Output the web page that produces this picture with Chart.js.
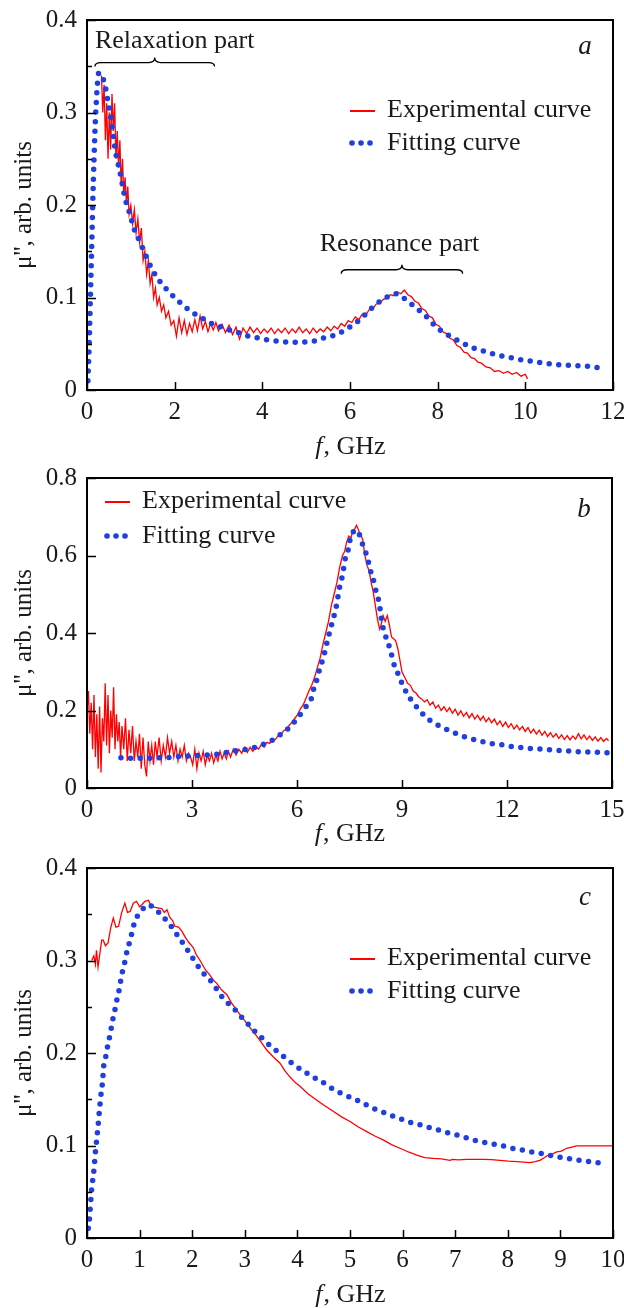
<!DOCTYPE html>
<html>
<head>
<meta charset="utf-8">
<script src="https://cdn.jsdelivr.net/npm/chart.js@4"></script>
<style>
  html, body { margin: 0; padding: 0; background: #fff; }
  body { width: 624px; height: 1308px; position: relative; overflow: hidden; }
  .panel { position: absolute; left: 0; width: 624px; }
</style>
</head>
<body>
<div class="panel" style="top:0;height:462px"><canvas id="chartA"></canvas></div>
<div class="panel" style="top:462px;height:390px"><canvas id="chartB"></canvas></div>
<div class="panel" style="top:852px;height:456px"><canvas id="chartC"></canvas></div>
<script>
// ---- data: [f (GHz), mu''] ----
const aExp = [
  [0.33,0.34],[0.36,0.30],[0.39,0.33],[0.42,0.27],[0.45,0.31],[0.48,0.25],[0.51,0.30],[0.54,0.26],
  [0.57,0.32],[0.60,0.28],[0.63,0.31],[0.66,0.25],[0.69,0.28],[0.72,0.24],[0.75,0.27],[0.78,0.22],
  [0.81,0.25],[0.84,0.21],[0.87,0.23],[0.90,0.20],[0.93,0.22],[0.96,0.19],[1.00,0.20],[1.04,0.18],
  [1.08,0.195],[1.12,0.17],[1.16,0.185],[1.20,0.16],[1.24,0.175],[1.28,0.14],[1.32,0.15],[1.36,0.125],
  [1.40,0.14],[1.44,0.115],[1.48,0.125],[1.52,0.10],[1.56,0.11],[1.60,0.092],[1.65,0.10],[1.70,0.085],
  [1.75,0.092],[1.80,0.078],[1.86,0.085],[1.92,0.07],[1.98,0.075],[2.04,0.058],[2.10,0.078],[2.16,0.062],
  [2.22,0.075],[2.28,0.06],[2.34,0.072],[2.40,0.063],[2.46,0.076],[2.52,0.064],[2.58,0.08],[2.64,0.066],
  [2.70,0.074],[2.76,0.063],[2.82,0.072],[2.88,0.065],[2.94,0.073],[3.00,0.064],[3.08,0.071],[3.16,0.062],
  [3.24,0.07],[3.32,0.06],[3.40,0.068],[3.48,0.055],[3.56,0.067],[3.64,0.061],[3.72,0.068],[3.80,0.062],
  [3.88,0.067],[3.96,0.061],[4.04,0.066],[4.12,0.062],[4.20,0.067],[4.28,0.061],[4.36,0.066],[4.44,0.062],
  [4.52,0.067],[4.60,0.061],[4.68,0.066],[4.76,0.062],[4.84,0.068],[4.92,0.062],[5.00,0.066],[5.08,0.061],
  [5.16,0.067],[5.24,0.062],[5.32,0.066],[5.40,0.063],[5.48,0.068],[5.56,0.064],[5.64,0.069],[5.72,0.066],
  [5.80,0.072],[5.88,0.069],[5.96,0.075],[6.04,0.073],[6.12,0.079],[6.20,0.076],[6.28,0.082],[6.36,0.081],
  [6.44,0.087],[6.52,0.088],[6.60,0.093],[6.68,0.094],[6.76,0.098],[6.84,0.099],[6.92,0.103],[7.00,0.102],
  [7.08,0.106],[7.16,0.104],[7.24,0.108],[7.32,0.103],[7.40,0.101],[7.48,0.096],[7.56,0.094],[7.64,0.088],
  [7.72,0.086],[7.80,0.08],[7.88,0.078],[7.96,0.071],[8.04,0.069],[8.12,0.063],[8.20,0.061],[8.28,0.056],
  [8.36,0.054],[8.44,0.048],[8.52,0.046],[8.60,0.041],[8.68,0.04],[8.76,0.035],[8.84,0.034],[8.92,0.03],
  [9.00,0.029],[9.10,0.025],[9.20,0.024],[9.30,0.02],[9.40,0.021],[9.50,0.018],[9.60,0.02],[9.70,0.017],
  [9.80,0.019],[9.90,0.015],[10.0,0.017],[10.05,0.012]
];
const aFit = [
  [0.02,0.01],[0.05,0.05],[0.08,0.105],[0.11,0.16],[0.13,0.20],[0.16,0.25],[0.19,0.29],[0.23,0.325],
  [0.27,0.343],[0.32,0.34],[0.40,0.332],[0.48,0.311],[0.56,0.289],[0.65,0.258],[0.75,0.236],[0.88,0.205],
  [0.96,0.193],[1.09,0.172],[1.20,0.161],[1.29,0.151],[1.39,0.140],[1.49,0.130],[1.62,0.12],[1.89,0.105],
  [2.04,0.098],[2.21,0.091],[2.39,0.084],[2.59,0.079],[2.78,0.073],[2.99,0.0695],[3.16,0.066],[3.35,0.0638],
  [3.56,0.060],[3.73,0.0577],[3.94,0.0559],[4.13,0.054],[4.33,0.053],[4.53,0.052],[4.76,0.0516],[4.99,0.052],
  [5.19,0.053],[5.38,0.056],[5.57,0.058],[5.74,0.061],[5.95,0.0667],[6.14,0.0728],[6.29,0.0786],[6.42,0.0854],
  [6.56,0.091],[6.75,0.098],[6.98,0.103],[7.05,0.104],[7.18,0.101],[7.5,0.089],[7.69,0.082],[7.97,0.068],
  [8.14,0.062],[8.33,0.057],[8.48,0.053],[8.79,0.046],[8.99,0.043],[9.22,0.0396],[9.45,0.037],[9.66,0.035],
  [9.85,0.033],[10.07,0.0317],[10.28,0.030],[10.48,0.0288],[10.67,0.0278],[10.88,0.027],[11.1,0.0263],
  [11.33,0.026],[11.55,0.025],[11.75,0.0234]
];
const bExp = [
  [0.00,0.20],[0.04,0.25],[0.08,0.14],[0.12,0.22],[0.16,0.10],[0.20,0.24],[0.24,0.08],[0.28,0.19],
  [0.32,0.05],[0.36,0.21],[0.40,0.04],[0.44,0.18],[0.48,0.12],[0.52,0.27],[0.56,0.11],[0.60,0.24],
  [0.64,0.09],[0.68,0.20],[0.72,0.13],[0.76,0.26],[0.80,0.10],[0.84,0.19],[0.88,0.12],[0.92,0.17],
  [0.96,0.08],[1.00,0.16],[1.05,0.10],[1.10,0.18],[1.15,0.07],[1.20,0.15],[1.25,0.09],[1.30,0.16],
  [1.35,0.07],[1.40,0.12],[1.45,0.08],[1.50,0.14],[1.55,0.05],[1.60,0.13],[1.65,0.06],[1.70,0.03],
  [1.75,0.12],[1.80,0.07],[1.85,0.11],[1.90,0.06],[1.95,0.12],[2.00,0.08],[2.06,0.13],[2.12,0.07],
  [2.18,0.11],[2.24,0.08],[2.30,0.13],[2.36,0.09],[2.42,0.12],[2.48,0.08],[2.54,0.11],[2.60,0.07],
  [2.66,0.10],[2.72,0.08],[2.78,0.11],[2.84,0.07],[2.90,0.09],[2.96,0.08],[3.02,0.06],[3.08,0.10],
  [3.14,0.05],[3.20,0.09],[3.26,0.07],[3.32,0.095],[3.38,0.06],[3.44,0.085],[3.50,0.07],[3.56,0.09],
  [3.62,0.065],[3.68,0.085],[3.74,0.07],[3.80,0.095],[3.86,0.075],[3.92,0.09],[3.98,0.075],[4.04,0.095],
  [4.10,0.08],[4.18,0.10],[4.26,0.085],[4.34,0.10],[4.42,0.09],[4.50,0.105],[4.58,0.092],[4.66,0.105],
  [4.74,0.095],[4.82,0.108],[4.90,0.10],[4.98,0.112],[5.06,0.105],[5.14,0.118],[5.22,0.115],[5.30,0.125],
  [5.38,0.125],[5.46,0.135],[5.54,0.138],[5.62,0.148],[5.70,0.152],[5.78,0.162],[5.86,0.17],[5.94,0.18],
  [6.02,0.19],[6.10,0.205],[6.18,0.215],[6.26,0.232],[6.34,0.25],[6.42,0.265],[6.50,0.285],[6.58,0.31],
  [6.66,0.335],[6.74,0.37],[6.82,0.40],[6.90,0.43],[6.98,0.47],[7.06,0.50],[7.14,0.53],[7.22,0.57],
  [7.30,0.60],[7.36,0.61],[7.42,0.635],[7.48,0.65],[7.54,0.645],[7.60,0.665],[7.66,0.67],[7.70,0.678],
  [7.74,0.67],[7.78,0.66],[7.82,0.655],[7.88,0.64],[7.94,0.60],[8.00,0.575],[8.06,0.56],[8.12,0.53],
  [8.18,0.505],[8.24,0.47],[8.30,0.435],[8.36,0.41],[8.40,0.42],[8.46,0.445],[8.52,0.43],[8.58,0.445],
  [8.64,0.42],[8.70,0.39],[8.76,0.385],[8.82,0.38],[8.88,0.36],[8.94,0.33],[9.00,0.30],[9.08,0.285],
  [9.16,0.27],[9.24,0.265],[9.32,0.25],[9.40,0.245],[9.48,0.235],[9.56,0.23],[9.64,0.222],[9.72,0.228],
  [9.80,0.214],[9.88,0.222],[9.96,0.206],[10.04,0.214],[10.12,0.200],[10.20,0.21],[10.28,0.197],[10.36,0.207],
  [10.44,0.193],[10.52,0.203],[10.60,0.188],[10.68,0.199],[10.76,0.185],[10.84,0.195],[10.92,0.181],[11.00,0.192],
  [11.08,0.178],[11.16,0.188],[11.24,0.175],[11.32,0.185],[11.40,0.171],[11.48,0.181],[11.56,0.168],[11.64,0.178],
  [11.72,0.163],[11.80,0.173],[11.88,0.159],[11.96,0.17],[12.04,0.156],[12.12,0.166],[12.20,0.152],[12.28,0.162],
  [12.36,0.15],[12.44,0.159],[12.52,0.146],[12.60,0.156],[12.68,0.142],[12.76,0.152],[12.84,0.139],[12.92,0.149],
  [13.00,0.136],[13.08,0.146],[13.16,0.133],[13.24,0.143],[13.32,0.131],[13.40,0.14],[13.48,0.128],[13.56,0.137],
  [13.64,0.125],[13.72,0.135],[13.80,0.124],[13.88,0.134],[13.96,0.126],[14.04,0.14],[14.12,0.127],[14.20,0.137],
  [14.28,0.125],[14.36,0.134],[14.44,0.123],[14.52,0.132],[14.60,0.121],[14.68,0.13],[14.76,0.12],[14.84,0.128],
  [14.90,0.122]
];
const bFit = [
  [0.97,0.078],[1.28,0.077],[1.58,0.077],[1.84,0.077],[2.11,0.078],[2.42,0.079],[2.68,0.082],[2.97,0.083],
  [3.25,0.084],[3.56,0.086],[3.82,0.088],[4.09,0.094],[4.37,0.098],[4.68,0.102],[4.94,0.110],[5.23,0.12],
  [5.51,0.137],[5.79,0.157],[6.01,0.18],[6.22,0.206],[6.41,0.231],[6.48,0.257],[6.58,0.283],[6.65,0.309],
  [6.75,0.335],[6.82,0.362],[6.89,0.388],[6.96,0.412],[7.12,0.468],[7.22,0.52],[7.29,0.545],[7.39,0.597],
  [7.48,0.621],[7.53,0.649],[7.62,0.662],[7.69,0.666],[7.77,0.657],[7.86,0.632],[7.97,0.606],[8.05,0.58],
  [8.12,0.554],[8.21,0.528],[8.27,0.502],[8.35,0.477],[8.39,0.45],[8.43,0.425],[8.5,0.4],[8.6,0.375],
  [8.69,0.348],[8.76,0.322],[8.88,0.296],[9.0,0.27],[9.14,0.244],[9.33,0.219],[9.55,0.195],[9.76,0.177],
  [10.07,0.16],[10.35,0.148],[10.64,0.137],[10.92,0.128],[11.21,0.122],[11.47,0.115],[11.78,0.113],[12.06,0.108],
  [12.33,0.105],[12.61,0.102],[12.88,0.101],[13.16,0.099],[13.47,0.097],[13.73,0.096],[13.99,0.094],[14.3,0.093],
  [14.59,0.092],[14.86,0.091]
];
const cExp = [
  [0.09,0.30],[0.13,0.305],[0.16,0.296],[0.18,0.311],[0.21,0.293],[0.25,0.31],[0.28,0.322],[0.31,0.322],
  [0.35,0.316],[0.40,0.319],[0.45,0.335],[0.50,0.346],[0.55,0.336],[0.60,0.337],[0.66,0.352],[0.72,0.362],
  [0.77,0.352],[0.82,0.353],[0.88,0.362],[0.94,0.364],[1.00,0.358],[1.04,0.36],[1.10,0.364],[1.17,0.365],
  [1.22,0.359],[1.26,0.358],[1.34,0.357],[1.42,0.356],[1.47,0.352],[1.52,0.355],[1.57,0.347],[1.63,0.343],
  [1.67,0.337],[1.74,0.336],[1.80,0.332],[1.87,0.325],[1.93,0.32],[2.02,0.314],[2.08,0.306],[2.15,0.30],
  [2.25,0.29],[2.34,0.284],[2.40,0.279],[2.47,0.275],[2.56,0.268],[2.66,0.263],[2.75,0.254],[2.85,0.246],
  [2.94,0.239],[3.04,0.232],[3.13,0.225],[3.23,0.218],[3.32,0.211],[3.42,0.203],[3.54,0.196],[3.67,0.189],
  [3.76,0.181],[3.86,0.174],[3.96,0.168],[4.05,0.164],[4.20,0.156],[4.37,0.149],[4.52,0.143],[4.68,0.137],
  [4.84,0.131],[5.00,0.126],[5.16,0.12],[5.32,0.115],[5.48,0.11],[5.63,0.106],[5.79,0.101],[5.95,0.097],
  [6.11,0.093],[6.27,0.0897],[6.42,0.087],[6.58,0.086],[6.74,0.0855],[6.90,0.084],[6.95,0.085],[7.06,0.0845],
  [7.22,0.085],[7.37,0.085],[7.53,0.085],[7.69,0.0848],[7.85,0.084],[8.01,0.083],[8.17,0.0825],[8.30,0.082],
  [8.42,0.0815],[8.52,0.0825],[8.61,0.084],[8.70,0.087],[8.77,0.0897],[8.85,0.091],[8.93,0.093],[9.02,0.094],
  [9.12,0.097],[9.20,0.098],[9.31,0.0995],[9.45,0.0995],[9.63,0.0995],[9.80,0.0995],[10.0,0.0995]
];
const cFit = [
  [0.025,0.0105],[0.044,0.019],[0.057,0.029],[0.07,0.0386],[0.082,0.048],[0.095,0.057],[0.12,0.067],[0.135,0.076],
  [0.15,0.086],[0.165,0.096],[0.184,0.106],[0.2,0.115],[0.215,0.124],[0.23,0.134],[0.245,0.143],[0.26,0.152],
  [0.28,0.162],[0.3,0.171],[0.31,0.182],[0.34,0.191],[0.37,0.2],[0.4,0.21],[0.44,0.22],[0.47,0.23],
  [0.5,0.239],[0.54,0.249],[0.57,0.258],[0.61,0.268],[0.64,0.278],[0.67,0.287],[0.71,0.296],[0.74,0.305],
  [0.78,0.314],[0.83,0.324],[0.87,0.334],[0.92,0.344],[1.0,0.351],[1.1,0.358],[1.18,0.36],[1.28,0.356],
  [1.44,0.348],[1.55,0.34],[1.67,0.332],[1.74,0.325],[1.86,0.316],[1.97,0.306],[2.2,0.287],[2.34,0.279],
  [2.43,0.272],[2.52,0.264],[2.66,0.255],[2.81,0.247],[2.88,0.242],[3.02,0.234],[3.16,0.225],[3.31,0.217],
  [3.46,0.209],[3.61,0.202],[3.72,0.197],[3.85,0.191],[3.99,0.185],[4.11,0.181],[4.24,0.176],[4.49,0.168],
  [4.65,0.162],[4.81,0.157],[4.97,0.153],[5.1,0.15],[5.25,0.1456],[5.41,0.141],[5.57,0.137],[5.73,0.134],
  [5.88,0.130],[6.04,0.1276],[6.2,0.124],[6.36,0.122],[6.53,0.119],[6.68,0.1168],[6.84,0.114],[6.99,0.112],
  [7.15,0.1095],[7.33,0.106],[7.5,0.104],[7.67,0.102],[7.85,0.1005],[8.03,0.0976],[8.2,0.0959],[8.37,0.094],
  [8.53,0.0922],[8.69,0.0908],[8.85,0.0887],[9.06,0.0868],[9.21,0.0854],[9.4,0.0836],[9.56,0.0825],[9.72,0.0814],
  [9.89,0.080]
];

// tick values
const aXTicks = [0, 2, 4, 6, 8, 10, 12];
const aYTicks = [0, 0.1, 0.2, 0.3, 0.4];
const aYMinor = [0.05, 0.15, 0.25, 0.35];
const bXTicks = [0, 3, 6, 9, 12, 15];
const bYTicks = [0, 0.2, 0.4, 0.6, 0.8];
const bYMinor = [];
const cXTicks = [0, 1, 2, 3, 4, 5, 6, 7, 8, 9, 10];
const cYTicks = [0, 0.1, 0.2, 0.3, 0.4];
const cYMinor = [0.05, 0.15, 0.25, 0.35];

const RED = '#ff0000';
const BLUE = '#1f3fdf';
const INK = '#1a1a1a';
const SERIF = '"Liberation Serif", "Times New Roman", serif';
Chart.defaults.font.family = SERIF;
Chart.defaults.color = INK;

function toXY(pts) {
  return pts.map(([x, y]) => ({ x, y }));
}

function brace(ctx, x0, x1, y) {
  const xm = (x0 + x1) / 2, r = 6;
  ctx.beginPath();
  ctx.moveTo(x0, y + 4);
  ctx.quadraticCurveTo(x0, y, x0 + r, y);
  ctx.lineTo(xm - r, y);
  ctx.quadraticCurveTo(xm, y, xm, y - 5);
  ctx.quadraticCurveTo(xm, y, xm + r, y);
  ctx.lineTo(x1 - r, y);
  ctx.quadraticCurveTo(x1, y, x1, y + 4);
  ctx.stroke();
}

// frame, inward ticks, legend, axis title, panel letter, annotations
const panelDeco = {
  id: 'panelDeco',
  afterDraw(chart, args, o) {
    const { ctx, chartArea: ca, scales: { x, y } } = chart;
    ctx.save();
    ctx.strokeStyle = '#000';
    ctx.lineWidth = 2;
    ctx.strokeRect(ca.left, ca.top, ca.right - ca.left, ca.bottom - ca.top);

    ctx.lineWidth = 1.5;
    ctx.beginPath();
    x.ticks.forEach(t => {
      const px = Math.round(x.getPixelForValue(t.value)) + 0.5;
      ctx.moveTo(px, ca.bottom); ctx.lineTo(px, ca.bottom - 8);
    });
    y.ticks.forEach(t => {
      const py = Math.round(y.getPixelForValue(t.value)) + 0.5;
      ctx.moveTo(ca.left, py); ctx.lineTo(ca.left + 9, py);
    });
    o.minorY.forEach(v => {
      const py = Math.round(y.getPixelForValue(v)) + 0.5;
      ctx.moveTo(ca.left, py); ctx.lineTo(ca.left + 5, py);
    });
    ctx.stroke();

    // x axis title with italic f
    ctx.fillStyle = INK;
    ctx.textBaseline = 'middle';
    ctx.textAlign = 'left';
    const fi = 'italic 26px ' + SERIF, fr = '26px ' + SERIF;
    ctx.font = fi; const w1 = ctx.measureText('f').width;
    ctx.font = fr; const w2 = ctx.measureText(', GHz').width;
    const tx = (ca.left + ca.right) / 2 - (w1 + w2) / 2, ty = ca.bottom + o.xTitleDy;
    ctx.font = fi; ctx.fillText('f', tx, ty);
    ctx.font = fr; ctx.fillText(', GHz', tx + w1 + 1, ty);

    // panel letter
    ctx.font = 'italic 27px ' + SERIF;
    ctx.textAlign = 'center';
    ctx.fillText(o.letter, ca.right - 28, ca.top + o.letterDy);

    // legend
    const ds = chart.data.datasets;
    const lx = ca.left + o.legend.dx, ly = ca.top + o.legend.dy, gap = o.legend.gap;
    ctx.strokeStyle = ds[1].borderColor; ctx.lineWidth = 2;
    ctx.beginPath(); ctx.moveTo(lx, ly); ctx.lineTo(lx + 25, ly); ctx.stroke();
    ctx.fillStyle = ds[0].borderColor;
    [2, 11, 20].forEach(d => { ctx.beginPath(); ctx.arc(lx + d, ly + gap, 2.8, 0, Math.PI * 2); ctx.fill(); });
    ctx.fillStyle = INK;
    ctx.font = '26px ' + SERIF;
    ctx.textAlign = 'left';
    ctx.fillText(ds[1].label, lx + 37, ly - 1);
    ctx.fillText(ds[0].label, lx + 37, ly + gap);

    // annotations with braces
    ctx.strokeStyle = '#000'; ctx.lineWidth = 1.3;
    (o.notes || []).forEach(n => {
      const x0 = x.getPixelForValue(n.x0), x1 = x.getPixelForValue(n.x1);
      brace(ctx, x0, x1, y.getPixelForValue(n.yBrace));
      ctx.textAlign = n.align;
      ctx.fillText(n.text, x.getPixelForValue(n.xText), y.getPixelForValue(n.yText));
    });
    ctx.restore();
  }
};

function makePanel(id, p) {
  const tickFont = { family: SERIF, size: 25 };
  return new Chart(document.getElementById(id), {
    type: 'line',
    data: {
      datasets: [
        { label: 'Fitting curve', data: toXY(p.fit), borderColor: BLUE, borderWidth: 5.5,
          borderDash: [0, 9.6], borderCapStyle: 'round', pointRadius: 0,
          cubicInterpolationMode: 'monotone', fill: false, order: 0 },
        { label: 'Experimental curve', data: toXY(p.exp), borderColor: RED, borderWidth: 1.3,
          pointRadius: 0, tension: 0, fill: false, order: 1 }
      ]
    },
    options: {
      responsive: true,
      maintainAspectRatio: false,
      animation: false,
      devicePixelRatio: 1,
      layout: { padding: { top: p.top, right: p.right, left: 0, bottom: 0 } },
      plugins: {
        legend: { display: false },
        tooltip: { enabled: false },
        panelDeco: p.deco
      },
      scales: {
        x: {
          type: 'linear', min: p.xTicks[0], max: p.xTicks[p.xTicks.length - 1],
          grid: { display: false, drawTicks: false }, border: { display: false },
          ticks: { font: tickFont, color: INK, padding: 7, maxRotation: 0, autoSkip: false, callback: v => String(v) },
          afterBuildTicks: s => { s.ticks = p.xTicks.map(v => ({ value: v })); },
          afterFit: s => { s.height = p.xAxisH; s.paddingLeft = 0; s.paddingRight = 0; }
        },
        y: {
          type: 'linear', min: 0, max: p.yTicks[p.yTicks.length - 1],
          grid: { display: false, drawTicks: false }, border: { display: false },
          ticks: { font: tickFont, color: INK, padding: 10, callback: v => String(v) },
          afterBuildTicks: s => { s.ticks = p.yTicks.map(v => ({ value: v })); },
          afterFit: s => { s.width = 87; s.paddingTop = 0; s.paddingBottom = 0; },
          title: { display: true, text: "\u03bc'', arb. units", font: { family: SERIF, size: 25 },
                   color: INK, padding: { top: 9, bottom: 0 } }
        }
      }
    },
    plugins: [panelDeco]
  });
}

makePanel('chartA', {
  exp: aExp, fit: aFit, xTicks: aXTicks, yTicks: aYTicks, top: 20, right: 11, xAxisH: 72,
  deco: {
    minorY: aYMinor, xTitleDy: 57, letter: 'a', letterDy: 27,
    legend: { dx: 263, dy: 91, gap: 32 },
    notes: [
      { text: 'Relaxation part', x0: 0.18, x1: 2.91, yBrace: 0.354, xText: 0.18, yText: 0.377, align: 'left' },
      { text: 'Resonance part', x0: 5.8, x1: 8.57, yBrace: 0.13, xText: 7.13, yText: 0.158, align: 'center' }
    ]
  }
});
makePanel('chartB', {
  exp: bExp, fit: bFit, xTicks: bXTicks, yTicks: bYTicks, top: 16, right: 12, xAxisH: 64,
  deco: {
    minorY: bYMinor, xTitleDy: 46, letter: 'b', letterDy: 32,
    legend: { dx: 18, dy: 24, gap: 34 }
  }
});
makePanel('chartC', {
  exp: cExp, fit: cFit, xTicks: cXTicks, yTicks: cYTicks, top: 16, right: 11, xAxisH: 70,
  deco: {
    minorY: cYMinor, xTitleDy: 57, letter: 'c', letterDy: 30,
    legend: { dx: 263, dy: 91, gap: 32 }
  }
});
</script>
</body>
</html>
